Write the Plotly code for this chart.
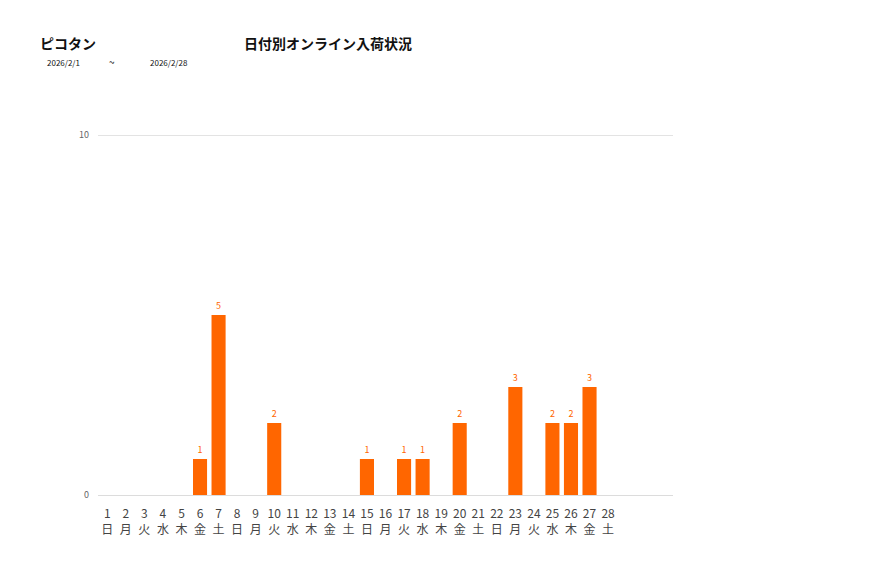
import plotly.graph_objects as go

days = list(range(1, 32))
weekdays = ["日", "月", "火", "水", "木", "金", "土"] * 4
values = [0, 0, 0, 0, 0, 1, 5, 0, 0, 2, 0, 0, 0, 0, 1, 0, 1, 1, 0, 2, 0, 0, 3, 0, 2, 2, 3, 0, 0, 0, 0]
tick_labels = [f"{d}<br>{w}" for d, w in zip(range(1, 29), weekdays)] + ["", "", ""]
shop = "ピコタン"
title = "日付別オンライン入荷状況"
start_date = "2026/2/1"
end_date = "2026/2/28"

FONT = "Noto Sans CJK JP, Noto Sans, sans-serif"
ORANGE = "#ff6600"

W, H = 877, 578
L, R, T, B = 90, 212, 120, 91
OFF = 8  # page body offset

fig = go.Figure(go.Bar(
    x=days, y=values,
    marker=dict(color=ORANGE, line=dict(width=0)),
    text=[str(v) if v > 0 else "" for v in values],
    textposition="outside",
    textfont=dict(color=ORANGE, size=9, family=FONT),
    cliponaxis=False,
    hoverinfo="skip",
))

ph = H - T - B
fig.update_layout(
    width=W, height=H,
    margin=dict(l=L, r=R, t=T, b=B),
    paper_bgcolor="white", plot_bgcolor="white",
    bargap=0.24,
    showlegend=False,
    font=dict(family=FONT),
    xaxis=dict(
        range=[0.5, 31.5], tickmode="array", tickvals=days, ticktext=tick_labels,
        showgrid=False, zeroline=False, showline=False, ticks="",
        ticklabelstandoff=10,
        tickfont=dict(size=12, color="#444444", family=FONT),
        fixedrange=True,
    ),
    yaxis=dict(
        range=[0, ph / 36.0], tickmode="array", tickvals=[0, 10],
        showgrid=True, gridcolor="#e3e3e3", gridwidth=1,
        zeroline=True, zerolinecolor="#dcdcdc", zerolinewidth=1,
        showline=False, ticks="", ticklabelstandoff=8,
        tickfont=dict(size=9, color="#666666", family=FONT),
        fixedrange=True,
    ),
)

pw = W - L - R


def px_ann(text, x, y, size, xanchor="left"):
    # x, y are screen pixel positions in the reference picture
    x -= OFF
    y -= OFF
    return dict(text=text, xref="paper", yref="paper",
                x=(x - L) / pw, y=((H - y) - B) / ph,
                showarrow=False, xanchor=xanchor, yanchor="middle",
                font=dict(size=size, color="#111111", family=FONT))


fig.update_layout(annotations=[
    px_ann(f"<b>{shop}</b>", 38, 43, 14),
    px_ann(f"<b>{title}</b>", 328, 43, 14, "center"),
    px_ann(start_date, 45, 62, 8),
    px_ann("~", 112, 61, 10, "center"),
    px_ann(end_date, 148, 62, 8),
])

fig.write_html("out.html")
